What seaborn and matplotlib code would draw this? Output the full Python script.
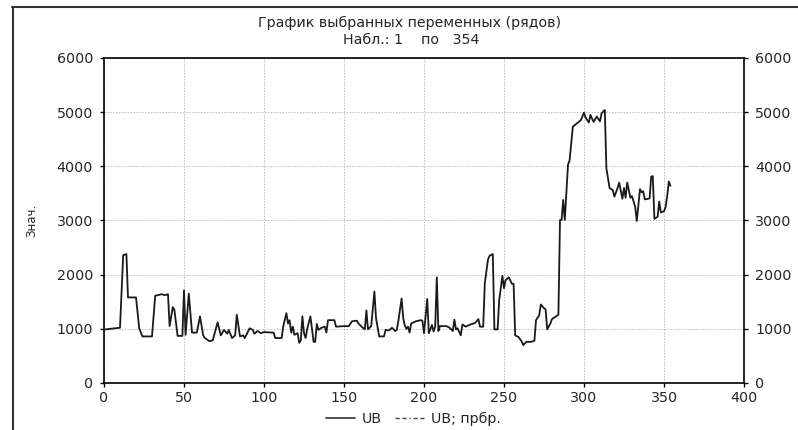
import matplotlib
matplotlib.use("Agg")
import matplotlib.pyplot as plt
import seaborn as sns
import pandas as pd
from matplotlib.lines import Line2D

sns.set_theme(style="white")
plt.rcParams['font.family'] = ['DejaVu Sans']

obs = [1, 10, 12, 14, 15, 20, 22, 24, 30, 32, 36, 38, 40, 41, 43, 44, 46, 49, 50, 51,
       53, 55, 58, 60, 62, 63, 66, 68, 71, 73, 75, 77, 78, 80, 82, 83, 85, 87, 88, 91,
       93, 94, 96, 98, 100, 106, 107, 111, 112, 114, 115, 116, 117, 118, 119, 121, 122, 123, 124, 125,
       126, 127, 129, 131, 132, 133, 134, 136, 138, 139, 140, 144, 145, 150, 153, 155, 158, 159, 161, 163,
       164, 165, 167, 169, 170, 172, 175, 176, 178, 180, 182, 183, 184, 186, 187, 188, 189, 190, 191, 192,
       195, 198, 199, 200, 202, 203, 205, 206, 207, 208, 209, 210, 214, 216, 218, 219, 220, 221, 223, 224,
       226, 229, 232, 234, 235, 237, 238, 240, 241, 243, 244, 246, 247, 249, 250, 251, 253, 255, 256, 257,
       259, 261, 262, 264, 267, 269, 270, 272, 273, 275, 276, 277, 279, 280, 283, 284, 285, 286, 287, 288,
       290, 291, 293, 295, 298, 300, 301, 303, 304, 306, 308, 310, 311, 313, 314, 316, 318, 319, 321, 322,
       324, 325, 326, 327, 329, 330, 331, 332, 333, 335, 336, 337, 338, 340, 341, 342, 343, 344, 346, 347,
       348, 350, 351, 352, 353, 354]
ub = [990, 1020, 2360, 2380, 1580, 1580, 1010, 860, 860, 1610, 1640, 1620, 1640, 1050, 1400, 1350, 870, 870, 1710, 890,
      1650, 930, 930, 1230, 880, 830, 770, 790, 1120, 880, 980, 910, 980, 830, 880, 1260, 860, 880, 830, 1010,
      980, 910, 960, 920, 940, 930, 830, 830, 1040, 1290, 1100, 1160, 930, 1040, 890, 920, 740, 790, 1230, 920,
      830, 1000, 1230, 760, 760, 1090, 980, 1020, 1040, 930, 1160, 1160, 1040, 1050, 1050, 1140, 1150, 1100, 1040, 990,
      1340, 990, 1050, 1690, 1200, 860, 860, 980, 970, 1020, 960, 980, 1150, 1560, 1200, 1060, 1000, 1040, 930, 1100,
      1140, 1160, 1150, 920, 1550, 920, 1070, 950, 1040, 1950, 960, 1050, 1050, 1020, 960, 1170, 990, 1010, 880, 1080,
      1040, 1080, 1110, 1180, 1040, 1040, 1840, 2280, 2350, 2380, 990, 990, 1530, 1980, 1750, 1900, 1950, 1830, 1830, 880,
      850, 770, 700, 760, 760, 780, 1160, 1250, 1450, 1380, 1360, 990, 1100, 1180, 1240, 1260, 3010, 3010, 3380, 3010,
      4030, 4110, 4730, 4780, 4850, 4990, 4900, 4810, 4950, 4820, 4920, 4830, 4980, 5040, 3960, 3600, 3560, 3440, 3600, 3700,
      3400, 3600, 3420, 3700, 3420, 3450, 3350, 3250, 2990, 3580, 3520, 3540, 3390, 3400, 3410, 3810, 3820, 3030, 3070, 3350,
      3150, 3170, 3250, 3450, 3720, 3640]

x_ticks = [0, 50, 100, 150, 200, 250, 300, 350, 400]
y_ticks = [0, 1000, 2000, 3000, 4000, 5000, 6000]

df = pd.DataFrame({'obs': obs, 'UB': ub})

fig = plt.figure(figsize=(7.98, 4.30), dpi=100)
fig.patch.set_facecolor('white')
ax = fig.add_axes([104 / 798, 47 / 430, 640 / 798, 325 / 430])

sns.lineplot(data=df, x='obs', y='UB', ax=ax, color='#1a1a1a', lw=1.3)

ax.set_xlim(0, 400)
ax.set_ylim(0, 6000)
ax.set_xticks(x_ticks)
ax.set_yticks(y_ticks)
ax.grid(True, color='#bbbbbb', linestyle=(0, (1.5, 1.5)), lw=0.7)
ax.tick_params(axis='both', labelsize=10.3, direction='out', length=3, width=1, color='black',
               left=True, bottom=True, right=True, labelright=True, pad=3)
ax.tick_params(axis='y', pad=5)
for s in ax.spines.values():
    s.set_color('black')
    s.set_linewidth(1.2)
ax.set_xlabel('')
ax.set_ylabel('Знач.', fontsize=8.5)
ax.yaxis.set_label_coords(-0.103, 0.5)

# title block is a little right of the figure centre in the original
fig.text(410 / 798, 1 - 23 / 430, 'График выбранных переменных (рядов)', ha='center', va='center', fontsize=10.3)
fig.text(411 / 798, 1 - 40 / 430, 'Набл.: 1    по   354', ha='center', va='center', fontsize=10.3)

handles = [Line2D([], [], color='#444444', lw=1.3),
           Line2D([], [], color='#444444', lw=1.0, linestyle=(0, (3, 2, 3, 2, 1, 2)))]
fig.legend(handles, ['UB', 'UB; прбр.'], loc='center', bbox_to_anchor=(0.518, 1 - 419 / 430),
           ncol=2, frameon=False, fontsize=10.3, handlelength=2.0, columnspacing=0.9, handletextpad=0.5)

# outer frame of the graph window
fig.add_artist(Line2D([12.5 / 798, 12.5 / 798], [0, 1 - 7 / 430], color='#333333', lw=1.5))
fig.add_artist(Line2D([12 / 798, 1], [1 - 7 / 430, 1 - 7 / 430], color='#333333', lw=1.5))

fig.savefig('out.png', dpi=100)
